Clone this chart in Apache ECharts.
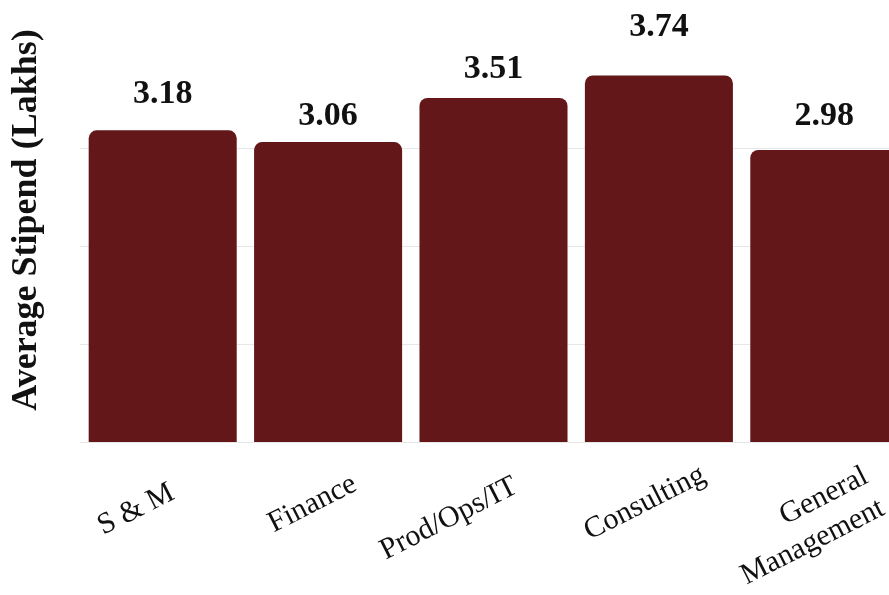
<!DOCTYPE html>
<html>
<head>
<meta charset="utf-8">
<script src="https://cdn.jsdelivr.net/npm/echarts@6/dist/echarts.min.js"></script>
<style>
  html, body { margin: 0; padding: 0; background: #ffffff; }
  #chart { width: 889px; height: 595px; }
</style>
</head>
<body>
<div id="chart"></div>
<script>
const categories = ['S & M', 'Finance', 'Prod/Ops/IT', 'Consulting', 'General\nManagement'];
const stipends = [3.18, 3.06, 3.51, 3.74, 2.98];
const yAxisTitle = 'Average Stipend (Lakhs)';

// styling tweaks (not data): per-label offsets to mimic the reference placement
const valueLabelDistance = [19, 9, 12, 31, 17];
const axisLabelPadding = [[0, -11, 0, 0], [0, -30, 0, 0], [0, -25, 0, 0], [0, -50, 0, 0], [0, -47, 0, 0]];

const chart = echarts.init(document.getElementById('chart'), null, { renderer: 'canvas' });
const serif = '"Liberation Serif", "Times New Roman", serif';

chart.setOption({
  animation: false,
  backgroundColor: '#ffffff',
  grid: { left: 80, right: -18, top: 50, bottom: 153, containLabel: false, outerBoundsMode: 'none' },
  xAxis: {
    type: 'category',
    data: categories.map((c, i) => ({ value: c, textStyle: { padding: axisLabelPadding[i] } })),
    axisLine: { show: false },
    axisTick: { show: false },
    axisLabel: {
      interval: 0,
      rotate: 27,
      margin: 54,
      fontFamily: serif,
      fontSize: 30,
      color: '#111111',
      lineHeight: 36,
      padding: [0, -36, 0, 0],
      hideOverlap: false,
      formatter: v => (v.indexOf('\n') >= 0 ? '\n' + v : v)
    }
  },
  yAxis: {
    type: 'value',
    min: 0,
    max: 4,
    interval: 1,
    axisLabel: { show: false },
    axisLine: { show: false },
    axisTick: { show: false },
    splitLine: { show: true, showMaxLine: false, lineStyle: { color: '#e6e6e6', width: 1 } },
    name: yAxisTitle,
    nameLocation: 'middle',
    nameGap: 35,
    nameTextStyle: {
      fontFamily: serif,
      fontWeight: 'bold',
      fontSize: 36,
      color: '#111111',
      padding: [0, 0, 0, 52]
    }
  },
  series: [{
    type: 'bar',
    data: stipends.map((v, i) => ({ value: v, label: { distance: valueLabelDistance[i] } })),
    barCategoryGap: '10.5%',
    itemStyle: { color: '#631719', borderRadius: [8, 8, 0, 0] },
    label: {
      show: true,
      position: 'top',
      distance: 19,
      fontFamily: serif,
      fontWeight: 'bold',
      fontSize: 34,
      color: '#111111',
      formatter: p => p.value.toFixed(2)
    }
  }]
});
</script>
</body>
</html>
